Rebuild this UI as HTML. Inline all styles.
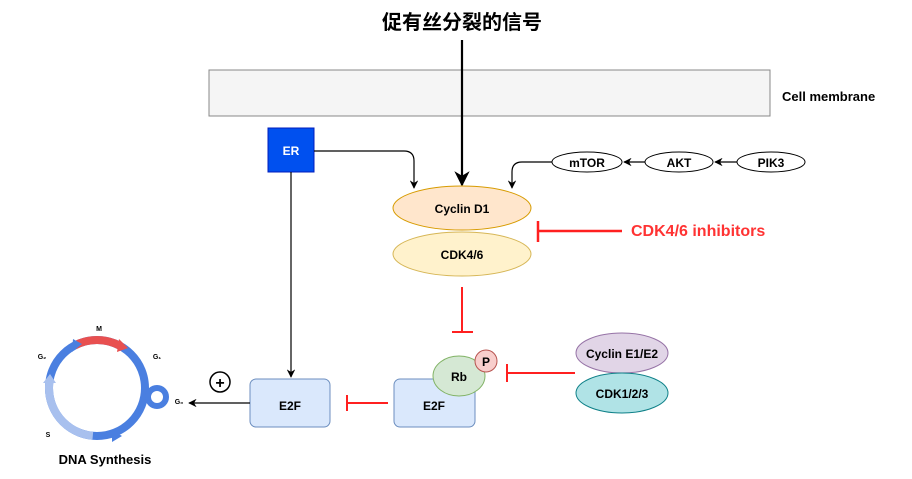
<!DOCTYPE html>
<html><head><meta charset="utf-8"><style>
body{margin:0;background:#fff;}
svg text{font-family:"Liberation Sans","Noto Sans CJK SC",sans-serif;font-weight:bold;}
</style></head><body>
<svg width="912" height="474" viewBox="0 0 912 474" xmlns="http://www.w3.org/2000/svg">
<defs>
<marker id="a" viewBox="0 0 10 10" refX="9" refY="5" markerWidth="7" markerHeight="7" orient="auto"><path d="M0,0 L10,5 L0,10 L3,5 z" fill="#000"/></marker>
</defs>
<text x="462" y="29" font-size="20" text-anchor="middle" fill="#000">促有丝分裂的信号</text>
<rect x="209" y="70" width="561" height="46" fill="#f5f5f5" stroke="#888" stroke-width="1"/>
<line x1="462" y1="40" x2="462" y2="185" stroke="#000" stroke-width="2.2" marker-end="url(#a)"/>
<text x="782" y="101" font-size="13">Cell membrane</text>
<rect x="268" y="128" width="46" height="44" fill="#0050ef" stroke="#001dbc"/>
<text x="291" y="155" font-size="12" fill="#fff" text-anchor="middle">ER</text>
<path d="M314,151 H404 Q414,151 414,161 V188" fill="none" stroke="#000" stroke-width="1.2" marker-end="url(#a)"/>
<ellipse cx="462" cy="208" rx="69" ry="22" fill="#ffe6cc" stroke="#d79b00"/>
<text x="462" y="213" font-size="12" text-anchor="middle">Cyclin D1</text>
<ellipse cx="462" cy="254" rx="69" ry="22" fill="#fff2cc" stroke="#d6b656"/>
<text x="462" y="259" font-size="12" text-anchor="middle">CDK4/6</text>
<line x1="622" y1="231" x2="538" y2="231" stroke="#ff2020" stroke-width="2.5"/>
<line x1="538" y1="221" x2="538" y2="242" stroke="#ff2020" stroke-width="2.5"/>
<text x="631" y="236" font-size="16" fill="#ff3333">CDK4/6 inhibitors</text>
<ellipse cx="587" cy="162" rx="35" ry="10" fill="#fff" stroke="#000"/>
<text x="587" y="167" font-size="12" text-anchor="middle">mTOR</text>
<ellipse cx="679" cy="162" rx="34" ry="10" fill="#fff" stroke="#000"/>
<text x="679" y="167" font-size="12" text-anchor="middle">AKT</text>
<ellipse cx="771" cy="162" rx="34" ry="10" fill="#fff" stroke="#000"/>
<text x="771" y="167" font-size="12" text-anchor="middle">PIK3</text>
<line x1="737" y1="162" x2="715" y2="162" stroke="#000" stroke-width="1.2" marker-end="url(#a)"/>
<line x1="645" y1="162" x2="624" y2="162" stroke="#000" stroke-width="1.2" marker-end="url(#a)"/>
<path d="M552,162 H522 Q512,162 512,172 V188" fill="none" stroke="#000" stroke-width="1.2" marker-end="url(#a)"/>
<line x1="462" y1="287" x2="462" y2="332" stroke="#ff2020" stroke-width="2"/>
<line x1="452" y1="332" x2="473" y2="332" stroke="#ff2020" stroke-width="2"/>
<rect x="394" y="379" width="81" height="48" rx="6" fill="#dae8fc" stroke="#6c8ebf"/>
<text x="434" y="410" font-size="12" text-anchor="middle">E2F</text>
<ellipse cx="459" cy="376" rx="26" ry="20" fill="#d5e8d4" stroke="#82b366"/>
<text x="459" y="381" font-size="12" text-anchor="middle">Rb</text>
<circle cx="486" cy="361" r="11" fill="#f8cecc" stroke="#b85450"/>
<text x="486" y="366" font-size="12" text-anchor="middle">P</text>
<line x1="575" y1="373" x2="507" y2="373" stroke="#ff2020" stroke-width="2"/>
<line x1="507" y1="364" x2="507" y2="382" stroke="#ff2020" stroke-width="2"/>
<ellipse cx="622" cy="353" rx="46" ry="20" fill="#e1d5e7" stroke="#9673a6"/>
<text x="622" y="358" font-size="12" text-anchor="middle">Cyclin E1/E2</text>
<ellipse cx="622" cy="393" rx="46" ry="20" fill="#b0e3e6" stroke="#0e8088"/>
<text x="622" y="398" font-size="12" text-anchor="middle">CDK1/2/3</text>
<rect x="250" y="379" width="80" height="48" rx="6" fill="#dae8fc" stroke="#6c8ebf"/>
<text x="290" y="410" font-size="12" text-anchor="middle">E2F</text>
<line x1="388" y1="403" x2="347" y2="403" stroke="#ff2020" stroke-width="2"/>
<line x1="347" y1="395" x2="347" y2="411" stroke="#ff2020" stroke-width="2"/>
<line x1="291" y1="172" x2="291" y2="377" stroke="#000" stroke-width="1.2" marker-end="url(#a)"/>
<line x1="250" y1="403" x2="189" y2="403" stroke="#000" stroke-width="1.2" marker-end="url(#a)"/>
<circle cx="220" cy="382" r="10" fill="#fff" stroke="#000" stroke-width="1.5"/>
<text x="220" y="388" font-size="16" text-anchor="middle">+</text>
<circle cx="97" cy="388" r="48" fill="none" stroke="#4a7fe0" stroke-width="8"/>
<path d="M74.5,345.6 A48,48 0 0 1 119.5,345.6" fill="none" stroke="#e85050" stroke-width="8"/>
<path d="M49.7,379.7 A48,48 0 0 0 92.8,435.8" fill="none" stroke="#a8c0ee" stroke-width="8"/>
<polygon points="119,339 128,348 117,352" fill="#e85050"/>
<polygon points="73,339 82,344 72,352" fill="#4a7fe0"/>
<polygon points="43,383 50,374 56,383" fill="#a8c0ee"/>
<polygon points="112,430 122,436 112,442" fill="#4a7fe0"/>
<circle cx="157" cy="397" r="9" fill="none" stroke="#4a7fe0" stroke-width="6"/>
<text x="99" y="331" font-size="7" text-anchor="middle">M</text>
<text x="157" y="359" font-size="7" text-anchor="middle">G₁</text>
<text x="42" y="359" font-size="7" text-anchor="middle">G₂</text>
<text x="179" y="404" font-size="7" text-anchor="middle">G₀</text>
<text x="48" y="437" font-size="7" text-anchor="middle">S</text>
<text x="105" y="464" font-size="13" text-anchor="middle">DNA Synthesis</text>
</svg>
</body></html>
